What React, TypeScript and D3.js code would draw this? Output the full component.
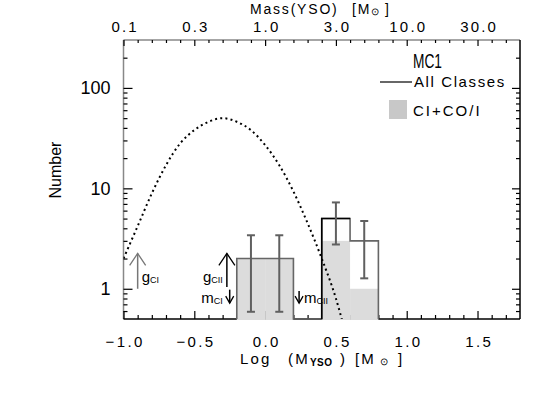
import React, { useEffect, useRef } from 'react';
import * as d3 from 'd3';

// histogram bins in log(M), width 0.2
const binStart = [-0.2, 0.0, 0.2, 0.4, 0.6];
const binWidth = 0.2;
const allCounts = [2, 2, 0, 5, 3];
const ciCounts = [2, 2, 0, 3, 1];
const allErrors = [1.41, 1.41, 0, 2.24, 1.73];

// dotted IMF curve
const imfLogM = [-1.0, -0.9, -0.8, -0.7, -0.6, -0.5, -0.4, -0.3, -0.2, -0.1, 0.0, 0.1, 0.2, 0.3, 0.4, 0.5, 0.55];
const imfN = [2.0, 4.2, 8.9, 17, 28, 38, 46, 50, 46, 38, 27, 17, 9.3, 4.5, 2.0, 0.8, 0.45];

const xTicks = [-1.0, -0.5, 0.0, 0.5, 1.0, 1.5];
const xTickLabels = ['\u22121.0', '\u22120.5', '0.0', '0.5', '1.0', '1.5'];
const massTickLabels = ['0.1', '0.3', '1.0', '3.0', '10.0', '30.0'];
const yTicks = [1, 10, 100];
const yTickLabels = ['1', '10', '100'];

// annotation arrows: g_CI, g_CII (up), m_CI, m_CII (down)
const gCI = { x: -0.9, from: 1.0, to: 2.25 };
const gCII = { x: -0.27, from: 1.04, to: 2.25 };
const mCI = { x: -0.25, from: 0.98, to: 0.72 };
const mCII = { x: 0.24, from: 0.95, to: 0.72 };

const W = 556;
const H = 398;
const L = 123.5, R = 520, T = 40, B = 319;
const FONT = '"Liberation Sans", Arial, sans-serif';

const App = () => {
  const svgRef = useRef<SVGSVGElement>(null);

  useEffect(() => {
    const svg = d3.select(svgRef.current);
    svg.selectAll('*').remove();

    const x = d3.scaleLinear().domain([-1.0, 1.8]).range([L, R]);
    const y = d3.scaleLog().domain([0.5, 300]).range([B, T]);

    const xMinor = d3.range(-9, 18).map(k => k / 10).filter(v => !xTicks.some(t => Math.abs(t - v) < 1e-6));
    const yMinor = y.ticks().filter(v => v > 0.5 && v < 300 && !yTicks.includes(v));

    // frame: left + top gray, right + bottom black
    svg.append('line').attr('x1', L).attr('x2', L).attr('y1', T).attr('y2', B).attr('stroke', '#888').attr('stroke-width', 1.5);
    svg.append('line').attr('x1', L).attr('x2', R).attr('y1', T).attr('y2', T).attr('stroke', '#888').attr('stroke-width', 1.5);
    svg.append('line').attr('x1', R).attr('x2', R).attr('y1', T).attr('y2', B).attr('stroke', '#000').attr('stroke-width', 1.5);
    svg.append('line').attr('x1', L).attr('x2', R).attr('y1', B).attr('y2', B).attr('stroke', '#000').attr('stroke-width', 1.5);

    const styleAxis = (g, size, spacing) => {
      g.select('.domain').remove();
      g.selectAll('line').attr('stroke', '#000').attr('stroke-width', 1.2);
      g.selectAll('text')
        .attr('font-family', FONT)
        .attr('font-size', size)
        .attr('fill', '#000')
        .attr('letter-spacing', spacing);
    };

    // bottom axis
    const gb = svg.append('g').attr('transform', `translate(0,${B})`);
    gb.call(d3.axisBottom(x).tickValues(xTicks).tickSize(-8).tickPadding(17).tickFormat((d, i) => xTickLabels[i]));
    styleAxis(gb, 15, 2.4);
    gb.selectAll('text').attr('dx', 1.2);
    const gbm = svg.append('g').attr('transform', `translate(0,${B})`);
    gbm.call(d3.axisBottom(x).tickValues(xMinor).tickSize(-4).tickFormat(() => ''));
    styleAxis(gbm, 15, 0);

    // top axis, mass labels
    const gt = svg.append('g').attr('transform', `translate(0,${T})`);
    gt.call(d3.axisTop(x).tickValues(xTicks).tickSize(-6).tickPadding(8).tickFormat((d, i) => massTickLabels[i]));
    styleAxis(gt, 15, 2.2);
    gt.selectAll('text').attr('dx', 1.1);
    const gtm = svg.append('g').attr('transform', `translate(0,${T})`);
    gtm.call(d3.axisTop(x).tickValues(xMinor).tickSize(-3).tickFormat(() => ''));
    styleAxis(gtm, 15, 0);

    // left axis
    const gl = svg.append('g').attr('transform', `translate(${L},0)`);
    gl.call(d3.axisLeft(y).tickValues(yTicks).tickSize(-9).tickPadding(13).tickFormat((d, i) => yTickLabels[i]));
    styleAxis(gl, 18, 0);
    const glm = svg.append('g').attr('transform', `translate(${L},0)`);
    glm.call(d3.axisLeft(y).tickValues(yMinor).tickSize(-4).tickFormat(() => ''));
    styleAxis(glm, 18, 0);

    // right axis
    const gr = svg.append('g').attr('transform', `translate(${R},0)`);
    gr.call(d3.axisRight(y).tickValues(yTicks).tickSize(-8).tickFormat(() => ''));
    styleAxis(gr, 18, 0);
    const grm = svg.append('g').attr('transform', `translate(${R},0)`);
    grm.call(d3.axisRight(y).tickValues(yMinor).tickSize(-4).tickFormat(() => ''));
    styleAxis(grm, 18, 0);

    const bins = binStart.map((s, i) => ({ s, e: s + binWidth, all: allCounts[i], ci: ciCounts[i], err: allErrors[i] }));

    // CI+CO/I filled histogram
    svg.selectAll('rect.ci')
      .data(bins.filter(d => d.ci > 0))
      .enter()
      .append('rect')
      .attr('class', 'ci')
      .attr('x', d => x(d.s))
      .attr('width', d => x(d.e) - x(d.s))
      .attr('y', d => y(d.ci))
      .attr('height', d => B + 1 - y(d.ci))
      .attr('fill', '#dcdcdc');

    // all classes step outline
    const p = d3.path();
    p.moveTo(x(bins[0].s), B);
    bins.forEach(d => {
      const lv = d.all > 0 ? y(d.all) : B;
      p.lineTo(x(d.s), lv);
      p.lineTo(x(d.e), lv);
    });
    p.lineTo(x(bins[bins.length - 1].e), B);
    svg.append('path').attr('d', p.toString()).attr('fill', 'none').attr('stroke', '#666').attr('stroke-width', 1.6);

    // highest bin: left edge and top in black
    const mb = bins[d3.maxIndex(allCounts)];
    svg.append('path')
      .attr('d', `M${x(mb.s)},${B}V${y(mb.all)}H${x(mb.e)}`)
      .attr('fill', 'none').attr('stroke', '#000').attr('stroke-width', 1.6);

    // error bars
    const eb = svg.selectAll('g.err').data(bins.filter(d => d.all > 0)).enter().append('g').attr('class', 'err');
    const cx = d => x((d.s + d.e) / 2);
    eb.append('line').attr('x1', cx).attr('x2', cx).attr('y1', d => y(d.all + d.err)).attr('y2', d => y(d.all - d.err))
      .attr('stroke', '#606060').attr('stroke-width', 2);
    eb.append('line').attr('x1', d => cx(d) - 4).attr('x2', d => cx(d) + 4).attr('y1', d => y(d.all + d.err)).attr('y2', d => y(d.all + d.err))
      .attr('stroke', '#606060').attr('stroke-width', 2);
    eb.append('line').attr('x1', d => cx(d) - 4).attr('x2', d => cx(d) + 4).attr('y1', d => y(d.all - d.err)).attr('y2', d => y(d.all - d.err))
      .attr('stroke', '#606060').attr('stroke-width', 2);

    // dotted IMF curve
    svg.append('clipPath').attr('id', 'plotclip').append('rect').attr('x', L).attr('y', T).attr('width', R - L).attr('height', B - T);
    const line = d3.line<number>()
      .x((d, i) => x(imfLogM[i]))
      .y(d => y(d))
      .curve(d3.curveMonotoneX);
    svg.append('path')
      .attr('d', line(imfN))
      .attr('clip-path', 'url(#plotclip)')
      .attr('fill', 'none')
      .attr('stroke', '#000')
      .attr('stroke-width', 2)
      .attr('stroke-dasharray', '2,3.2');

    // arrows
    const arrow = (a, color, up) => {
      const ax = x(a.x);
      const y1 = y(a.from), y2 = y(a.to);
      const hs = up ? 12 : 7, hw = up ? 8 : 4;
      const dir = up ? 1 : -1;
      svg.append('line').attr('x1', ax).attr('x2', ax).attr('y1', y1).attr('y2', y2).attr('stroke', color).attr('stroke-width', 1.5);
      svg.append('path')
        .attr('d', `M${ax - hw},${y2 + dir * hs}L${ax},${y2}L${ax + hw},${y2 + dir * hs}`)
        .attr('fill', 'none').attr('stroke', color).attr('stroke-width', 1.3);
    };
    arrow(gCI, '#777', true);
    arrow(gCII, '#000', true);
    arrow(mCI, '#000', false);
    arrow(mCII, '#000', false);

    const label = (tx, ty, main, sub, anchor = 'start') => {
      const t = svg.append('text').attr('x', tx).attr('y', ty).attr('font-family', FONT).attr('font-size', 15).attr('text-anchor', anchor);
      t.append('tspan').text(main);
      t.append('tspan').attr('font-size', 9).attr('dy', 1).text(sub);
    };
    label(x(gCI.x) + 4, 282, 'g', 'CI');
    label(x(gCII.x) - 4, 282, 'g', 'CII', 'end');
    label(x(mCI.x) - 7, 303, 'm', 'CI', 'end');
    label(x(mCII.x) + 5, 303, 'm', 'CII');

    // legend
    svg.append('text').attr('x', 413).attr('y', 68).attr('font-family', FONT).attr('font-size', 20)
      .attr('textLength', 29).attr('lengthAdjust', 'spacingAndGlyphs').text('MC1');
    svg.append('line').attr('x1', 380).attr('x2', 412).attr('y1', 82).attr('y2', 82).attr('stroke', '#000').attr('stroke-width', 1.2);
    svg.append('text').attr('x', 414).attr('y', 87).attr('font-family', FONT).attr('font-size', 15)
      .attr('letter-spacing', 1.6).text('All Classes');
    svg.append('rect').attr('x', 389).attr('y', 100).attr('width', 18).attr('height', 19).attr('fill', '#c8c8c8');
    svg.append('text').attr('x', 413).attr('y', 116).attr('font-family', FONT).attr('font-size', 15)
      .attr('letter-spacing', 2).text('CI+CO/I');

    // axis titles
    svg.append('text')
      .attr('transform', `translate(61,170) rotate(-90)`)
      .attr('text-anchor', 'middle')
      .attr('font-family', FONT).attr('font-size', 16)
      .text('Number');

    const tt = svg.append('text').attr('y', 14).attr('font-family', FONT).attr('font-size', 14).attr('letter-spacing', 1.8);
    tt.append('tspan').attr('x', 250).text('Mass(YSO)');
    tt.append('tspan').attr('x', 352).text('[M');
    tt.append('tspan').attr('font-size', 10).attr('dy', 1).text('\u2299');
    tt.append('tspan').attr('x', 385).attr('dy', -1).text(']');

    const bt = svg.append('text').attr('y', 364).attr('font-family', FONT).attr('font-size', 15).attr('letter-spacing', 2.2);
    bt.append('tspan').attr('x', 240).text('Log');
    bt.append('tspan').attr('x', 288).text('(M');
    bt.append('tspan').attr('font-size', 10).attr('font-weight', 'bold').attr('dy', 2).attr('letter-spacing', 0.5).text('YSO');
    bt.append('tspan').attr('x', 340).attr('dy', -2).text(')');
    bt.append('tspan').attr('x', 355).text('[M');
    bt.append('tspan').attr('x', 380).attr('font-size', 10).attr('dy', 1).text('\u2299');
    bt.append('tspan').attr('x', 398).attr('dy', -1).text(']');
  }, []);

  return (
    <svg ref={svgRef} width={W} height={H} style={{ position: 'absolute', left: 0, top: 0, background: '#fff' }}></svg>
  );
};

export default App;
